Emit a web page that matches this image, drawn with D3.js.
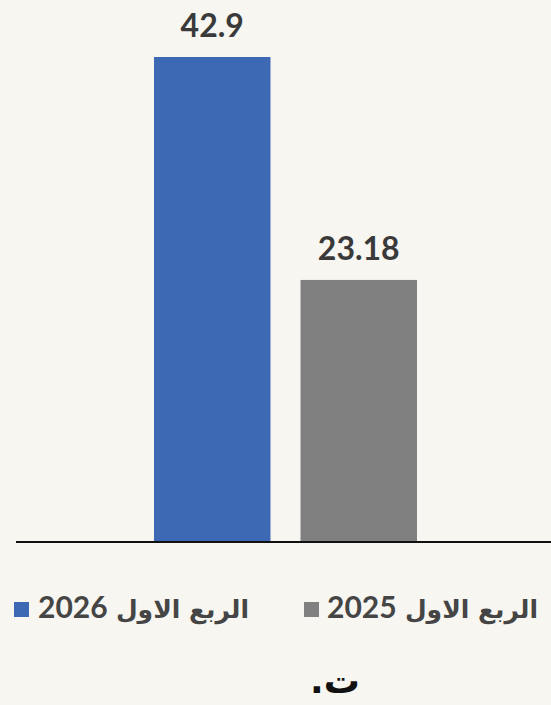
<!DOCTYPE html>
<html><head><meta charset="utf-8">
<script src="https://cdn.jsdelivr.net/npm/d3@7"></script>
<style>html,body{margin:0;padding:0;background:#f8f6f1;}</style>
</head><body>
<svg id="chart" width="551" height="705"></svg>
<script>
const categories = ["الربع الاول 2026", "الربع الاول 2025"];
const quarterLabels = ["الربع الاول", "الربع الاول"];
const years = ["2026", "2025"];
const values = [42.9, 23.18];
const valueLabels = ["42.9", "23.18"];
const colors = ["#3d69b4", "#808080"];

const svg = d3.select("#chart");
svg.append("rect").attr("width", 551).attr("height", 705).attr("fill", "#f8f6f1");

const baseY = 542;
const x = d3.scaleBand().domain(categories).range([154, 417]).paddingInner(0.205).paddingOuter(0);
const y = d3.scaleLinear().domain([0, 42.9]).range([baseY, 57]);

svg.selectAll("rect.bar").data(categories).enter().append("rect")
  .attr("class", "bar")
  .attr("x", d => x(d))
  .attr("width", x.bandwidth())
  .attr("y", (d, i) => y(values[i]))
  .attr("height", (d, i) => baseY - y(values[i]))
  .attr("fill", (d, i) => colors[i]);

svg.selectAll("text.val").data(categories).enter().append("text")
  .attr("class", "val")
  .attr("x", d => x(d) + x.bandwidth() / 2)
  .attr("y", (d, i) => y(values[i]) - 20)
  .attr("text-anchor", "middle")
  .attr("font-family", "Lato, 'Open Sans', sans-serif")
  .attr("font-weight", 700)
  .attr("font-size", 32)
  .attr("fill", "#3a3a3a")
  .text((d, i) => valueLabels[i]);

svg.append("line").attr("x1", 16).attr("x2", 551).attr("y1", baseY).attr("y2", baseY)
  .attr("stroke", "#111").attr("stroke-width", 2);

// Legend
const legendItems = [
  {sq: 14, yr: 38, ar: 249},
  {sq: 304, yr: 327, ar: 538}
];
const lg = svg.append("g");
legendItems.forEach((p, i) => {
  lg.append("rect").attr("x", p.sq).attr("y", 602).attr("width", 15).attr("height", 15).attr("fill", colors[i]);
  lg.append("text").attr("x", p.yr).attr("y", 618)
    .attr("font-family", "Lato, sans-serif").attr("font-weight", 700).attr("font-size", 30)
    .attr("fill", "#454545").text(years[i]);
  lg.append("text").attr("x", p.ar).attr("y", 618).attr("text-anchor", "end")
    .attr("font-family", "'DejaVu Sans', sans-serif").attr("font-weight", 700).attr("font-size", 25)
    .attr("fill", "#454545").text(quarterLabels[i]);
});

svg.append("text").attr("x", 335).attr("y", 693).attr("text-anchor", "middle")
  .attr("direction", "rtl")
  .attr("font-family", "'DejaVu Sans', sans-serif").attr("font-weight", 700).attr("font-size", 36)
  .attr("fill", "#111").text("ت.");
</script>
</body></html>
